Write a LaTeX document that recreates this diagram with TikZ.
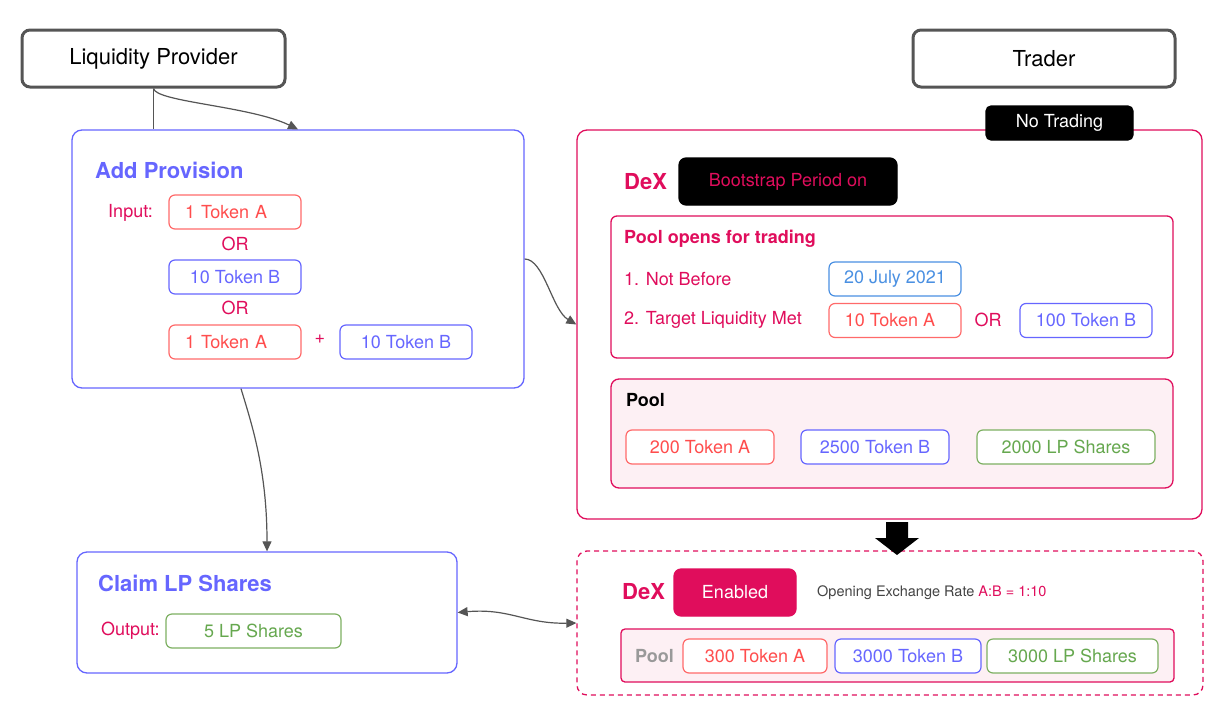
\documentclass[tikz,border=0pt]{standalone}
\usepackage{fontspec}
\setmainfont{TeX Gyre Heros}
\usetikzlibrary{arrows.meta,calc}
\definecolor{crim}{HTML}{E00D5C}
\definecolor{pblue}{HTML}{6666FF}
\definecolor{tred}{HTML}{FF4D4D}
\definecolor{bred}{HTML}{FF6A6A}
\definecolor{tgreen}{HTML}{66A84F}
\definecolor{bgreen}{HTML}{7DB062}
\definecolor{dblue}{HTML}{4A90E2}
\definecolor{gray5}{HTML}{555555}
\definecolor{poolpink}{HTML}{FDF0F4}
\definecolor{txtgray}{HTML}{444444}
\definecolor{pgray}{HTML}{999999}
\begin{document}
\begin{tikzpicture}[x=1pt,y=-1pt,
  actor/.style={draw=gray5, line width=3pt, rounded corners=8pt, minimum width=263pt, minimum height=57pt, fill=white, font=\fontsize{22}{26}\selectfont, inner sep=0pt},
  panel/.style={rounded corners=10pt, line width=1.3pt, inner sep=0pt, fill=white},
  tok/.style={rounded corners=6pt, line width=1.2pt, minimum height=34pt, minimum width=132pt, fill=white, font=\fontsize{18}{21}\selectfont, inner sep=0pt},
  redtok/.style={tok, draw=bred, text=tred},
  bluetok/.style={tok, draw=pblue, text=pblue},
  greentok/.style={tok, draw=bgreen, text=tgreen},
  lbl/.style={anchor=west, inner sep=0pt, font=\fontsize{18}{21}\selectfont},
  midlbl/.style={inner sep=0pt, font=\fontsize{18}{21}\selectfont},
  bigtitle/.style={anchor=west, inner sep=0pt, font=\bfseries\fontsize{22}{26}\selectfont},
  subtitle/.style={anchor=west, inner sep=0pt, font=\bfseries\fontsize{18}{21}\selectfont},
  conn/.style={draw=gray5, line width=1.2pt, -{Triangle[length=10pt,width=9pt]}},
  plain/.style={draw=gray5, line width=1.2pt},
  biconn/.style={draw=gray5, line width=1.2pt, {Triangle[length=10pt,width=9pt]}-{Triangle[length=10pt,width=9pt]}}
]
\useasboundingbox (0,0) rectangle (1231,720);

% actors
\node[actor] (lp) at (153.5,58.5) {Liquidity Provider};
\node[actor, minimum width=262pt] (trader) at (1044,58.5) {Trader};

% Add Provision
\node[panel, draw=pblue, minimum width=452pt, minimum height=258pt] (ap) at (298,259) {};
\node[bigtitle, text=pblue] (aptitle) at (95,170) {Add Provision};
\node[lbl, text=crim] (input) at (108,213) {Input:};
\node[redtok, text width=118pt, align=left, text depth=0pt] (ta1) at (235,212) {\hspace*{9pt}1 Token A};
\node[midlbl, text=crim] (or1) at (235,244) {OR};
\node[bluetok] (tb1) at (235,277) {10 Token B};
\node[midlbl, text=crim] (or2) at (235,308) {OR};
\node[redtok, text width=118pt, align=left, text depth=0pt] (ta2) at (235,342) {\hspace*{9pt}1 Token A};
\node[midlbl, text=crim] (plus) at (320,339) {+};
\node[bluetok] (tb2) at (406,342) {10 Token B};

% Claim LP
\node[panel, draw=pblue, minimum width=380pt, minimum height=121pt] (claim) at (267,612.5) {};
\node[bigtitle, text=pblue] (cltitle) at (98,583) {Claim LP Shares};
\node[lbl, text=crim] (output) at (101,631) {Output:};
\node[greentok, minimum width=175pt] (lp5) at (253.5,631) {5 LP Shares};

% DeX bootstrap
\node[panel, draw=crim, minimum width=625pt, minimum height=389pt] (dex) at (889.5,324.5) {};
\node[tok, fill=black, draw=black, text=white, minimum width=147pt, rounded corners=5pt] (notrade) at (1059.5,123) {No Trading};
\node[bigtitle, text=crim] (dextitle) at (624,182) {DeX};
\node[tok, fill=black, draw=black, text=crim, minimum width=218pt, minimum height=47pt, rounded corners=7pt] (boot) at (788,181.5) {Bootstrap Period on};

\node[panel, draw=crim, minimum width=562pt, minimum height=142pt, rounded corners=6pt] (pot) at (892,287) {};
\node[subtitle, text=crim] (pottitle) at (624,239) {Pool opens for trading};
\node[lbl, text=crim] (nb) at (624,279) {1. Not Before};
\node[tok, draw=dblue, text=dblue] (date) at (895,279) {20 July 2021};
\node[lbl, text=crim] (tl) at (624,320) {2. Target Liquidity Met};
\node[redtok] (t10a) at (895,320.5) {\hspace*{-10pt}10 Token A};
\node[midlbl, text=crim] (or3) at (988,320) {OR};
\node[bluetok] (t100b) at (1086,320.5) {100 Token B};

\node[panel, draw=crim, fill=poolpink, minimum width=562pt, minimum height=109pt, rounded corners=8pt] (pool) at (892,433.5) {};
\node[subtitle, text=black] (pooltitle) at (626,400) {Pool};
\node[redtok, minimum width=148pt] (p200a) at (700,447) {200 Token A};
\node[bluetok, minimum width=148pt] (p2500b) at (875,447) {2500 Token B};
\node[greentok, minimum width=178pt] (p2000lp) at (1066,447) {2000 LP Shares};

% DeX enabled
\node[panel, draw=crim, dashed, dash pattern=on 5pt off 4pt, minimum width=626pt, minimum height=144pt] (dex2) at (890,623) {};
\node[bigtitle, text=crim] (dex2title) at (622,592) {DeX};
\node[tok, fill=crim, draw=crim, text=white, minimum width=122pt, minimum height=47pt, rounded corners=7pt] (enabled) at (735,592.5) {Enabled};
\node[anchor=west, inner sep=0pt, font=\fontsize{14.5}{17}\selectfont] (rate) at (817,593) {\textcolor{txtgray}{Opening Exchange Rate }\textcolor{crim}{A:B = 1:10}};
\node[panel, draw=crim, fill=poolpink, minimum width=553pt, minimum height=53pt, rounded corners=4pt] (pool2) at (897.5,655.5) {};
\node[subtitle, text=pgray] (pool2title) at (635,656) {Pool};
\node[redtok, minimum width=144pt] (p300a) at (755,656) {300 Token A};
\node[bluetok, minimum width=146pt] (p3000b) at (908,656) {3000 Token B};
\node[greentok, minimum width=171pt] (p3000lp) at (1072.5,656) {3000 LP Shares};

% block arrow
\fill[black] (886,522) -- (908,522) -- (908,538) -- (919,538) -- (897,555) -- (875,538) -- (886,538) -- cycle;

% connectors
\draw[plain] (lp.south) -- (lp.south |- ap.north);
\draw[conn] (lp.south) .. controls (156,102) and (250,106) .. (ap.north);
\draw[conn] ([xshift=-57pt]ap.south) .. controls (252,425) and (267,470) .. (claim.north);
\draw[conn] (ap.east) .. controls (544,259) and (552,310) .. (dex.west);
\draw[biconn] (claim.east) .. controls (510,608) and (525,624) .. (dex2.west);
\end{tikzpicture}
\end{document}
